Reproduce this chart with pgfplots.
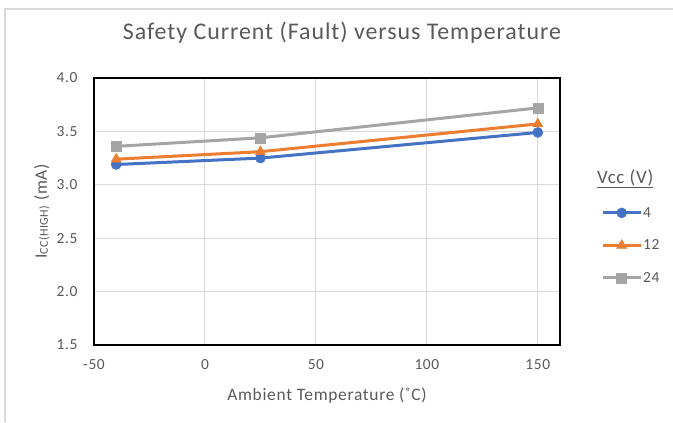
\documentclass[border=0pt]{standalone}
\usepackage{fontspec}
\setmainfont{Carlito}[LetterSpace=4]
\usepackage{pgfplots}
\pgfplotsset{compat=1.18}
\definecolor{txt}{HTML}{595959}
\definecolor{gridc}{HTML}{D9D9D9}
\definecolor{sA}{HTML}{4472C4}
\definecolor{sB}{HTML}{ED7D31}
\definecolor{sC}{HTML}{A5A5A5}
\begin{document}
\begin{tikzpicture}[x=1bp,y=1bp]
\path[use as bounding box] (0,0) rectangle (673,422);
\draw[gridc, line width=1.5bp] (5,0) -- (5,413) -- (673,413);
\begin{axis}[
  at={(94bp,77bp)}, anchor=south west,
  scale only axis, width=466bp, height=267bp,
  xmin=-50, xmax=160, ymin=1.5, ymax=4.0,
  xtick={-50,0,50,100,150}, ytick={1.5,2.0,2.5,3.0,3.5,4.0},
  grid=major, major grid style={gridc, line width=1bp},
  axis line style={black, line width=1.5bp},
  tick style={draw=none},
  /pgf/number format/assume math mode=true,
  yticklabel style={/pgf/number format/fixed, /pgf/number format/fixed zerofill, /pgf/number format/precision=1, xshift=-13bp},
  xticklabel style={yshift=-11bp},
  ticklabel style={font=\fontsize{15.5}{17}\selectfont, text=txt},
  title={Safety Current (Fault) versus Temperature},
  title style={at={(rel axis cs:0.532,1.12)}, anchor=base, yshift=0pt, font=\fontsize{24}{27}\selectfont, text=txt},
  xlabel={Ambient Temperature (˚C)},
  xlabel style={at={(rel axis cs:0.5,-0.206)}, anchor=base, font=\fontsize{17.5}{20}\selectfont, text=txt},
  ylabel={I\raisebox{-0.1ex}{\fontsize{12}{13}\selectfont CC(HIGH)} (mA)},
  ylabel style={at={(rel axis cs:-0.112,0.5)}, anchor=center, rotate=0, font=\fontsize{17.5}{20}\selectfont, text=txt},
  clip=false,
  legend style={draw=none, fill=none, at={(rel axis cs:1.088,0.517)}, anchor=north west,
    inner sep=0pt, row sep=21bp, column sep=1bp,
    nodes={inner sep=0pt, text=txt, font=\fontsize{15.5}{17}\selectfont}},
  legend cell align=left,
  legend image code/.code={\draw[mark repeat=2,mark phase=2] plot coordinates {(0bp,0bp) (19bp,0bp) (38bp,0bp)};},
]
\addplot[sA, line width=3bp, mark=*, mark size=5bp, mark options={solid, line width=0.5bp}] coordinates {(-40,3.19) (25,3.25) (150,3.49)};
\addlegendentry{4}
\addplot[sB, line width=3bp, mark=triangle*, mark size=5.8bp, mark options={solid, line width=0.5bp}] coordinates {(-40,3.24) (25,3.31) (150,3.57)};
\addlegendentry{12}
\addplot[sC, line width=3bp, mark=square*, mark size=5bp, mark options={solid, line width=0.5bp}] coordinates {(-40,3.36) (25,3.44) (150,3.72)};
\addlegendentry{24}
\end{axis}
\node[anchor=base west, text=txt, font=\fontsize{19}{21}\selectfont, inner sep=0pt] at (597,239) {\underline{Vcc (V)}};
\end{tikzpicture}
\end{document}
